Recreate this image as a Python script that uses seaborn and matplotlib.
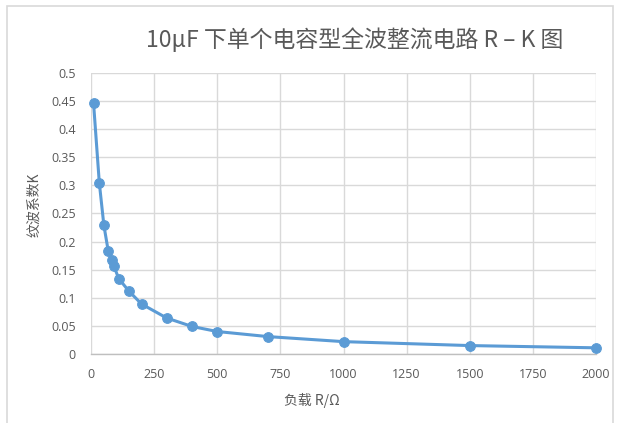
import matplotlib
matplotlib.use("Agg")
import matplotlib.pyplot as plt
import seaborn as sns
import pandas as pd
import numpy as np
from matplotlib.patches import Rectangle

R = [10, 33, 51, 68, 82, 91, 110, 150, 200, 300, 400, 500, 700, 1000, 1500, 2000]
K = [0.447, 0.304, 0.229, 0.184, 0.168, 0.156, 0.134, 0.112, 0.089, 0.064, 0.049, 0.040, 0.031, 0.022, 0.015, 0.011]
x_ticks = [0, 250, 500, 750, 1000, 1250, 1500, 1750, 2000]
y_ticks = [0, 0.05, 0.1, 0.15, 0.2, 0.25, 0.3, 0.35, 0.4, 0.45, 0.5]
y_tick_labels = ["0", "0.05", "0.1", "0.15", "0.2", "0.25", "0.3", "0.35", "0.4", "0.45", "0.5"]
title = "10μF 下单个电容型全波整流电路 R – K 图"
xlabel = "负载 R/Ω"
ylabel = "纹波系数K"

sns.set_style("white")
plt.rcParams['font.family'] = ['Noto Sans CJK SC', 'DejaVu Sans']

df = pd.DataFrame({"R": R, "K": K})
color = "#5B9BD5"
grey_text = "#595959"

fig = plt.figure(figsize=(6.19, 4.23), dpi=100)
W, H = 619, 423
ax = fig.add_axes([91 / W, 1 - 354 / H, (596 - 91) / W, (354 - 73) / H])

# chart frame
fig.patches.append(Rectangle((7 / W, -0.1), (613 - 7) / W, 1 - 6 / H + 0.1,
                             transform=fig.transFigure, fill=False,
                             edgecolor="#D9D9D9", linewidth=1.2))

sns.lineplot(data=df, x="R", y="K", ax=ax, color=color, linewidth=2.2,
             marker="o", markersize=7, markeredgecolor=color, clip_on=False, zorder=3)

ax.set_xlim(0, 2000)
ax.set_ylim(0, 0.5)
ax.set_xticks(x_ticks)
ax.set_yticks(y_ticks)
ax.set_yticklabels(y_tick_labels)
ax.tick_params(axis="both", length=0, labelsize=9, colors=grey_text)
ax.tick_params(axis="y", pad=11)
ax.tick_params(axis="x", pad=10)
for lbl in ax.get_xticklabels() + ax.get_yticklabels():
    lbl.set_fontfamily(['Open Sans', 'DejaVu Sans'])
ax.grid(True, color="#D9D9D9", linewidth=1.0)
ax.set_axisbelow(True)
for s in ["left", "right", "top"]:
    ax.spines[s].set_visible(False)
ax.spines["bottom"].set_color("#BFBFBF")
ax.spines["bottom"].set_linewidth(1.0)
ax.set_xlabel("")
ax.set_ylabel("")

fig.text(355 / W, 1 - 40 / H, title, ha="center", va="center", fontsize=16.5, color=grey_text)
fig.text(312 / W, 1 - 400 / H, xlabel, ha="center", va="center", fontsize=10, color=grey_text)
fig.text(34 / W, 1 - 205 / H, ylabel, ha="center", va="center", fontsize=10, color=grey_text, rotation=90)

fig.savefig("out.png", dpi=100)
